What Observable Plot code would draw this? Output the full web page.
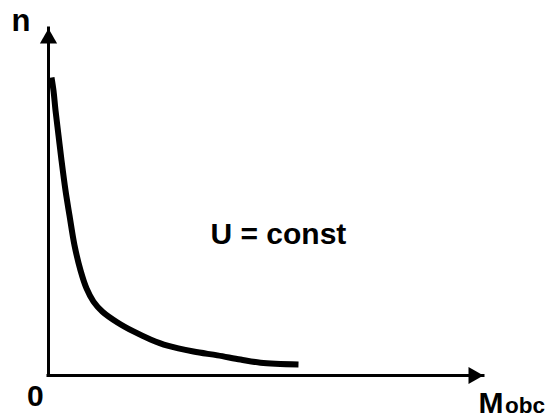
<!DOCTYPE html>
<html>
<head>
<meta charset="utf-8">
<script src="https://cdn.jsdelivr.net/npm/d3@7"></script>
<script src="https://cdn.jsdelivr.net/npm/@observablehq/plot@0.6"></script>
<style>
  html, body { margin: 0; padding: 0; background: #fff; }
  #chart svg { display: block; }
</style>
</head>
<body>
<div id="chart"></div>
<script>
// ---- data (arbitrary units, axes run 0..100) ----
const curveX = [0.69, 1.15, 1.61, 2.30, 2.99, 3.91, 4.83, 5.98, 7.36, 8.74, 10.34, 12.41, 15.86, 19.54, 23.45, 27.36, 33.33, 38.85, 44.14, 48.74, 57.47];
const curveY = [85.9, 82.1, 76.4, 69.2, 62.0, 53.3, 46.1, 37.5, 30.3, 25.1, 21.3, 18.4, 15.3, 12.7, 10.4, 8.6, 6.9, 5.8, 4.6, 3.7, 3.2];
const axisMaxX = 100;
const axisMaxY = 100;
const yLabel = "n";
const originLabel = "0";
const xLabelMain = "M";
const xLabelSub = "obc";
const annotation = "U = const";

const curve = curveX.map((x, i) => ({x, y: curveY[i]}));
const font = "'Liberation Sans', Arial, Helvetica, sans-serif";

const chart = Plot.plot({
  width: 555,
  height: 419,
  marginLeft: 48,
  marginRight: 72,
  marginTop: 28,
  marginBottom: 44,
  x: {domain: [0, axisMaxX], axis: null},
  y: {domain: [0, axisMaxY], axis: null},
  style: {background: "#fff", fontFamily: font, color: "#000"},
  marks: [
    // axes
    Plot.ruleX([0], {y1: 0, y2: axisMaxY, stroke: "#000", strokeWidth: 3, strokeLinecap: "square"}),
    Plot.ruleY([0], {x1: 0, x2: axisMaxX, stroke: "#000", strokeWidth: 3, strokeLinecap: "square"}),
    Plot.dot([{x: 0, y: axisMaxY}], {x: "x", y: "y", symbol: "triangle", r: 6.4, fill: "#000", stroke: "none", dy: 10}),
    Plot.dot([{x: axisMaxX, y: 0}], {x: "x", y: "y", symbol: "triangle", r: 6.4, fill: "#000", stroke: "none", rotate: 90, dx: -10}),
    // curve
    Plot.line(curve, {x: "x", y: "y", stroke: "#000", strokeWidth: 6, curve: "catmull-rom", strokeLinecap: "butt", strokeLinejoin: "round"}),
    // labels
    Plot.text([{x: 0, y: axisMaxY, t: yLabel}], {x: "x", y: "y", text: "t", textAnchor: "start", lineAnchor: "bottom", dx: -37, dy: 2, fontSize: 31, fontWeight: "bold", fill: "#000"}),
    Plot.text([{x: 0, y: 0, t: originLabel}], {x: "x", y: "y", text: "t", textAnchor: "start", lineAnchor: "bottom", dx: -21.5, dy: 30, fontSize: 30, fontWeight: "bold", fill: "#000"}),
    Plot.text([{x: axisMaxX, y: 0, t: xLabelMain}], {x: "x", y: "y", text: "t", textAnchor: "start", lineAnchor: "bottom", dx: -5, dy: 37, fontSize: 30, fontWeight: "bold", fill: "#000"}),
    Plot.text([{x: axisMaxX, y: 0, t: xLabelSub}], {x: "x", y: "y", text: "t", textAnchor: "start", lineAnchor: "bottom", dx: 21.5, dy: 37, fontSize: 22.5, fontWeight: "bold", fill: "#000"}),
    Plot.text([annotation], {frameAnchor: "middle", text: d => d, textAnchor: "start", lineAnchor: "bottom", dx: -55.5, dy: 41.5, fontSize: 30, fontWeight: "bold", fill: "#000"})
  ]
});
document.getElementById("chart").appendChild(chart);
</script>
</body>
</html>
